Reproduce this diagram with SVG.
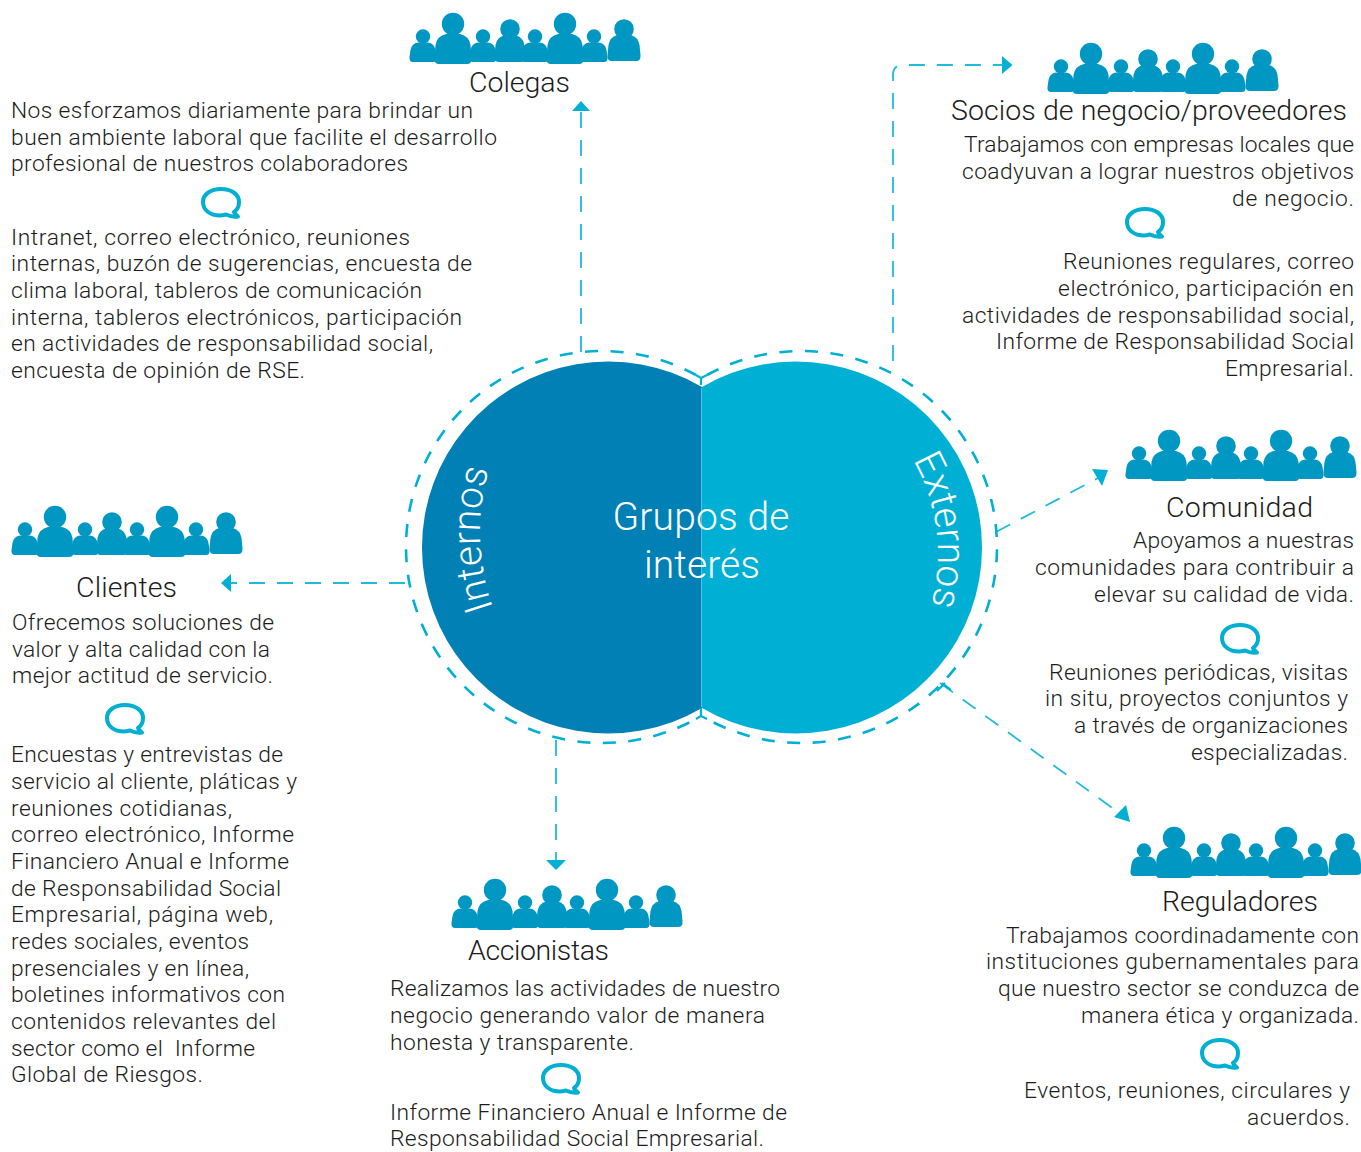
<svg xmlns="http://www.w3.org/2000/svg" width="1361" height="1152" viewBox="0 0 1361 1152">
<style>
text{font-family:Roboto,"Noto Sans","Liberation Sans",sans-serif;font-weight:300;fill:#1c1c1c;font-size:22.800px}
.h{font-size:28.500px}
.m{text-anchor:middle}
.w{fill:#fff;font-size:39px}
.c{fill:none;stroke:#1fbbdb;stroke-width:1.8;stroke-dasharray:16 12}
.d{fill:none;stroke:#00b0d4;stroke-width:2.6;stroke-dasharray:13 12.5}
.t{fill:none;stroke:#00b0d4;stroke-width:2.2}
.a{fill:#00b0d4}
.b{fill:none;stroke:#00afd2;stroke-width:4;stroke-linejoin:round}
.p{fill:#0097c3}
</style>
<defs>
<g id="ps" class="p"><circle cy="-25.5" r="7.200"/><path d="M-10 0Q-14 0-13.500-5L-12.500-12Q-11.500-18.500-5-19.500L5-19.500Q11.500-18.500 12.500-12L13.500-5Q14 0 10 0Z"/></g>
<g id="pb" class="p"><circle cy="-40" r="11.200"/><path d="M-14 0Q-19 0-18.500-6L-17.500-19Q-16-28-7-30L7-30Q16-28 17.500-19L18.500-6Q19 0 14 0Z"/></g>
<g id="pm" class="p"><circle cy="-33" r="9.800"/><path d="M-11 0Q-16 0-15.500-6L-14.500-17Q-13-25-6-26.500L6-26.500Q13-25 14.500-17L15.500-6Q16 0 11 0Z"/></g>
<g id="crowd">
<use href="#ps" x="13" y="49"/><use href="#ps" x="73" y="49"/><use href="#ps" x="125" y="49"/><use href="#ps" x="184" y="49"/>
<use href="#pm" x="100" y="49"/><use href="#pb" x="43" y="51"/><use href="#pb" x="155" y="51"/>
<g transform="translate(214 48)"><circle cy="-32" r="9.800" class="p"/><path class="p" d="M-12 0Q-17 0-16.500-6L-15.500-16Q-14-24-7-26L7-26Q14-24 15.500-16L16.500-6Q17 0 12 0Z"/></g>
</g>
<path id="bubble" class="b" d="M-1 12.500C-11 12.500-18 7-18-1C-18-9-10-14 0-14C10-14 18-9 18-1C18 3 16 7 13 9C14 11 15 12 17 13.500C13 14 8 13 5 11.500C3 12 1 12.500-1 12.500Z"/>
</defs>

<g id="conectores">
<path class="c" d="M581 352V111"/><path class="a" d="M581 101L590 111H572Z"/>
<path class="c" stroke-dashoffset="22" d="M893 367V75Q893 65 903 65H1003"/><path class="a" d="M1012.500 65L1002 56V74Z"/>
<path class="c" d="M996 532L1100 477"/><path class="a" d="M1108 470L1092 469L1102 486Z"/>
<path class="c" d="M940 683L1122 815"/><path class="a" d="M1130 822L1114 817L1126 805Z"/>
<path class="c" d="M405 583H230"/><path class="a" d="M221 583L231 574V592Z"/>
<path class="c" d="M556 740V860"/><path class="a" d="M556 870L546 860H566Z"/>
</g>

<g id="centro">
<path d="M702 387A186 186 0 1 0 702 708Z" fill="#0080b4"/>
<path d="M702 387A186 186 0 1 1 702 708Z" fill="#00b0d4"/>
<path d="M701.500 388V707" stroke="#7fd8ea" stroke-width="0.7" fill="none"/>
<path class="d" d="M696 375A196 196 0 1 0 696 719"/>
<path class="d" d="M707 375A196 196 0 1 1 707 719"/>
<path class="t" d="M701 385V378L696 375M701 378L707 375M701 708V716L696 719M701 716L707 719M937 691L945 683M942 683L951 690"/>
<path id="pi" d="M493 608A230 230 0 0 1 493 456" fill="none"/>
<path id="pe" d="M913 460A190 190 0 0 1 924 626" fill="none"/>
<text class="w"><textPath href="#pi">Internos</textPath></text>
<text class="w"><textPath href="#pe">Externos</textPath></text>
<text class="w m" x="701" y="530" textLength="177">Grupos de</text>
<text class="w m" x="702" y="578" textLength="116">interés</text>
</g>

<g id="colegas">
<use href="#crowd" x="410" y="13"/>
<text class="h" x="469" y="92" textLength="101">Colegas</text>
<text x="11" y="118" textLength="462">Nos esforzamos diariamente para brindar un</text>
<text x="11" y="145" textLength="486">buen ambiente laboral que facilite el desarrollo</text>
<text x="11" y="171" textLength="397">profesional de nuestros colaboradores</text>
<use href="#bubble" x="221" y="203"/>
<text x="11" y="245" textLength="399">Intranet, correo electrónico, reuniones</text>
<text x="11" y="271" textLength="461">internas, buzón de sugerencias, encuesta de</text>
<text x="11" y="298" textLength="411">clima laboral, tableros de comunicación</text>
<text x="11" y="325" textLength="451">interna, tableros electrónicos, participación</text>
<text x="11" y="351" textLength="422">en actividades de responsabilidad social,</text>
<text x="11" y="378" textLength="294">encuesta de opinión de RSE.</text>
</g>

<g id="socios">
<use href="#crowd" x="1048" y="43"/>
<text class="h" x="951" y="120" textLength="396">Socios de negocio/proveedores</text>
<text x="964" y="152" textLength="390">Trabajamos con empresas locales que</text>
<text x="962" y="179" textLength="392">coadyuvan a lograr nuestros objetivos</text>
<text x="1232" y="206" textLength="122">de negocio.</text>
<use href="#bubble" x="1145" y="223"/>
<text x="1063" y="269" textLength="291">Reuniones regulares, correo</text>
<text x="1058" y="296" textLength="296">electrónico, participación en</text>
<text x="962" y="323" textLength="392">actividades de responsabilidad social,</text>
<text x="996" y="349" textLength="358">Informe de Responsabilidad Social</text>
<text x="1225" y="376" textLength="129">Empresarial.</text>
</g>

<g id="comunidad">
<use href="#crowd" x="1126" y="430"/>
<text class="h" x="1166" y="517" textLength="147">Comunidad</text>
<text x="1133" y="548" textLength="221">Apoyamos a nuestras</text>
<text x="1035" y="575" textLength="319">comunidades para contribuir a</text>
<text x="1094" y="602" textLength="260">elevar su calidad de vida.</text>
<use href="#bubble" x="1240" y="639"/>
<text x="1049" y="680" textLength="299">Reuniones periódicas, visitas</text>
<text x="1045" y="706" textLength="303">in situ, proyectos conjuntos y</text>
<text x="1074" y="733" textLength="274">a través de organizaciones</text>
<text x="1191" y="760" textLength="157">especializadas.</text>
</g>

<g id="reguladores">
<use href="#crowd" x="1131" y="827"/>
<text class="h" x="1162" y="911" textLength="156">Reguladores</text>
<text x="1006" y="943" textLength="353">Trabajamos coordinadamente con</text>
<text x="986" y="969" textLength="373">instituciones gubernamentales para</text>
<text x="998" y="996" textLength="361">que nuestro sector se conduzca de</text>
<text x="1081" y="1023" textLength="278">manera ética y organizada.</text>
<use href="#bubble" x="1220" y="1054"/>
<text x="1024" y="1098" textLength="326">Eventos, reuniones, circulares y</text>
<text x="1247" y="1125" textLength="103">acuerdos.</text>
</g>

<g id="clientes">
<use href="#crowd" x="12" y="506"/>
<text class="h" x="76" y="597" textLength="101">Clientes</text>
<text x="12" y="630" textLength="262">Ofrecemos soluciones de</text>
<text x="12" y="657" textLength="258">valor y alta calidad con la</text>
<text x="12" y="683" textLength="261">mejor actitud de servicio.</text>
<use href="#bubble" x="125" y="719"/>
<text x="11" y="762" textLength="272">Encuestas y entrevistas de</text>
<text x="11" y="789" textLength="286">servicio al cliente, pláticas y</text>
<text x="11" y="816" textLength="221">reuniones cotidianas,</text>
<text x="11" y="842" textLength="283">correo electrónico, Informe</text>
<text x="11" y="869" textLength="278">Financiero Anual e Informe</text>
<text x="11" y="896" textLength="270">de Responsabilidad Social</text>
<text x="11" y="922" textLength="262">Empresarial, página web,</text>
<text x="11" y="949" textLength="238">redes sociales, eventos</text>
<text x="11" y="976" textLength="238">presenciales y en línea,</text>
<text x="11" y="1002" textLength="274">boletines informativos con</text>
<text x="11" y="1029" textLength="265">contenidos relevantes del</text>
<text x="11" y="1056" textLength="244" xml:space="preserve">sector como el  Informe</text>
<text x="11" y="1082" textLength="192">Global de Riesgos.</text>
</g>

<g id="accionistas">
<use href="#crowd" x="452" y="879"/>
<text class="h" x="468" y="960" textLength="141">Accionistas</text>
<text x="390" y="996" textLength="390">Realizamos las actividades de nuestro</text>
<text x="390" y="1023" textLength="375">negocio generando valor de manera</text>
<text x="390" y="1050" textLength="244">honesta y transparente.</text>
<use href="#bubble" x="561" y="1079"/>
<text x="390" y="1119.500" textLength="397">Informe Financiero Anual e Informe de</text>
<text x="390" y="1146.200" textLength="374">Responsabilidad Social Empresarial.</text>
</g>
</svg>
